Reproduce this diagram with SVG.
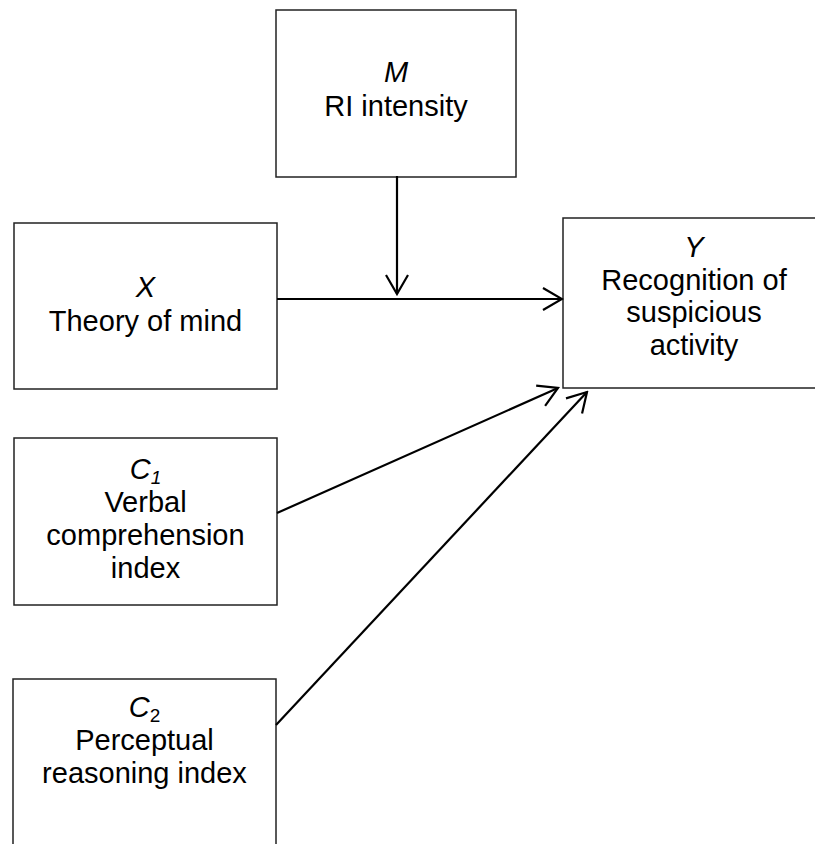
<svg xmlns="http://www.w3.org/2000/svg" width="815" height="844" viewBox="0 0 815 844">
<style>
  .box { fill: #fff; stroke: #222; stroke-width: 1.5; }
  .t { font-family: "Liberation Sans", Arial, sans-serif; font-size: 29px; fill: #000; text-anchor: middle; }
  .i { font-style: italic; }
  .edge { stroke: #000; stroke-width: 2.2; fill: none; marker-end: url(#ah); }
</style>
<defs>
  <marker id="ah" viewBox="-22 -13 24 26" markerWidth="24" markerHeight="26" refX="0" refY="0" orient="auto" markerUnits="userSpaceOnUse">
    <path d="M-19,-11 L0,0 L-19,11" fill="none" stroke="#000" stroke-width="2.2"/>
  </marker>
</defs>
<rect width="815" height="844" fill="#fff"/>
<g id="node-M">
  <rect class="box" x="276" y="10" width="240" height="167"/>
  <text class="t i" x="396" y="82">M</text>
  <text class="t" x="396" y="116">RI intensity</text>
</g>
<g id="node-X">
  <rect class="box" x="14" y="223" width="263" height="166"/>
  <text class="t i" x="145.5" y="297">X</text>
  <text class="t" x="145.5" y="331">Theory of mind</text>
</g>
<g id="node-Y">
  <rect class="box" x="563" y="218" width="262" height="170"/>
  <text class="t i" x="694" y="257">Y</text>
  <text class="t" x="694" y="290">Recognition of</text>
  <text class="t" x="694" y="322">suspicious</text>
  <text class="t" x="694" y="355">activity</text>
</g>
<g id="node-C1">
  <rect class="box" x="14" y="438" width="263" height="167"/>
  <text class="t" x="145.5" y="479"><tspan class="i">C</tspan><tspan class="i" font-size="19" dy="5">1</tspan></text>
  <text class="t" x="145.5" y="512">Verbal</text>
  <text class="t" x="145.5" y="545">comprehension</text>
  <text class="t" x="145.5" y="578">index</text>
</g>
<g id="node-C2">
  <rect class="box" x="13" y="679" width="263" height="180"/>
  <text class="t" x="144.5" y="717"><tspan class="i">C</tspan><tspan font-size="19" dy="5">2</tspan></text>
  <text class="t" x="144.5" y="750">Perceptual</text>
  <text class="t" x="144.5" y="783">reasoning index</text>
</g>
<g id="connectors">
  <line class="edge" x1="277" y1="299" x2="562" y2="299"/>
  <line class="edge" x1="397" y1="176" x2="397" y2="294"/>
  <line class="edge" x1="277" y1="513" x2="558" y2="388"/>
  <line class="edge" x1="276" y1="725" x2="587" y2="392"/>
</g>
</svg>
